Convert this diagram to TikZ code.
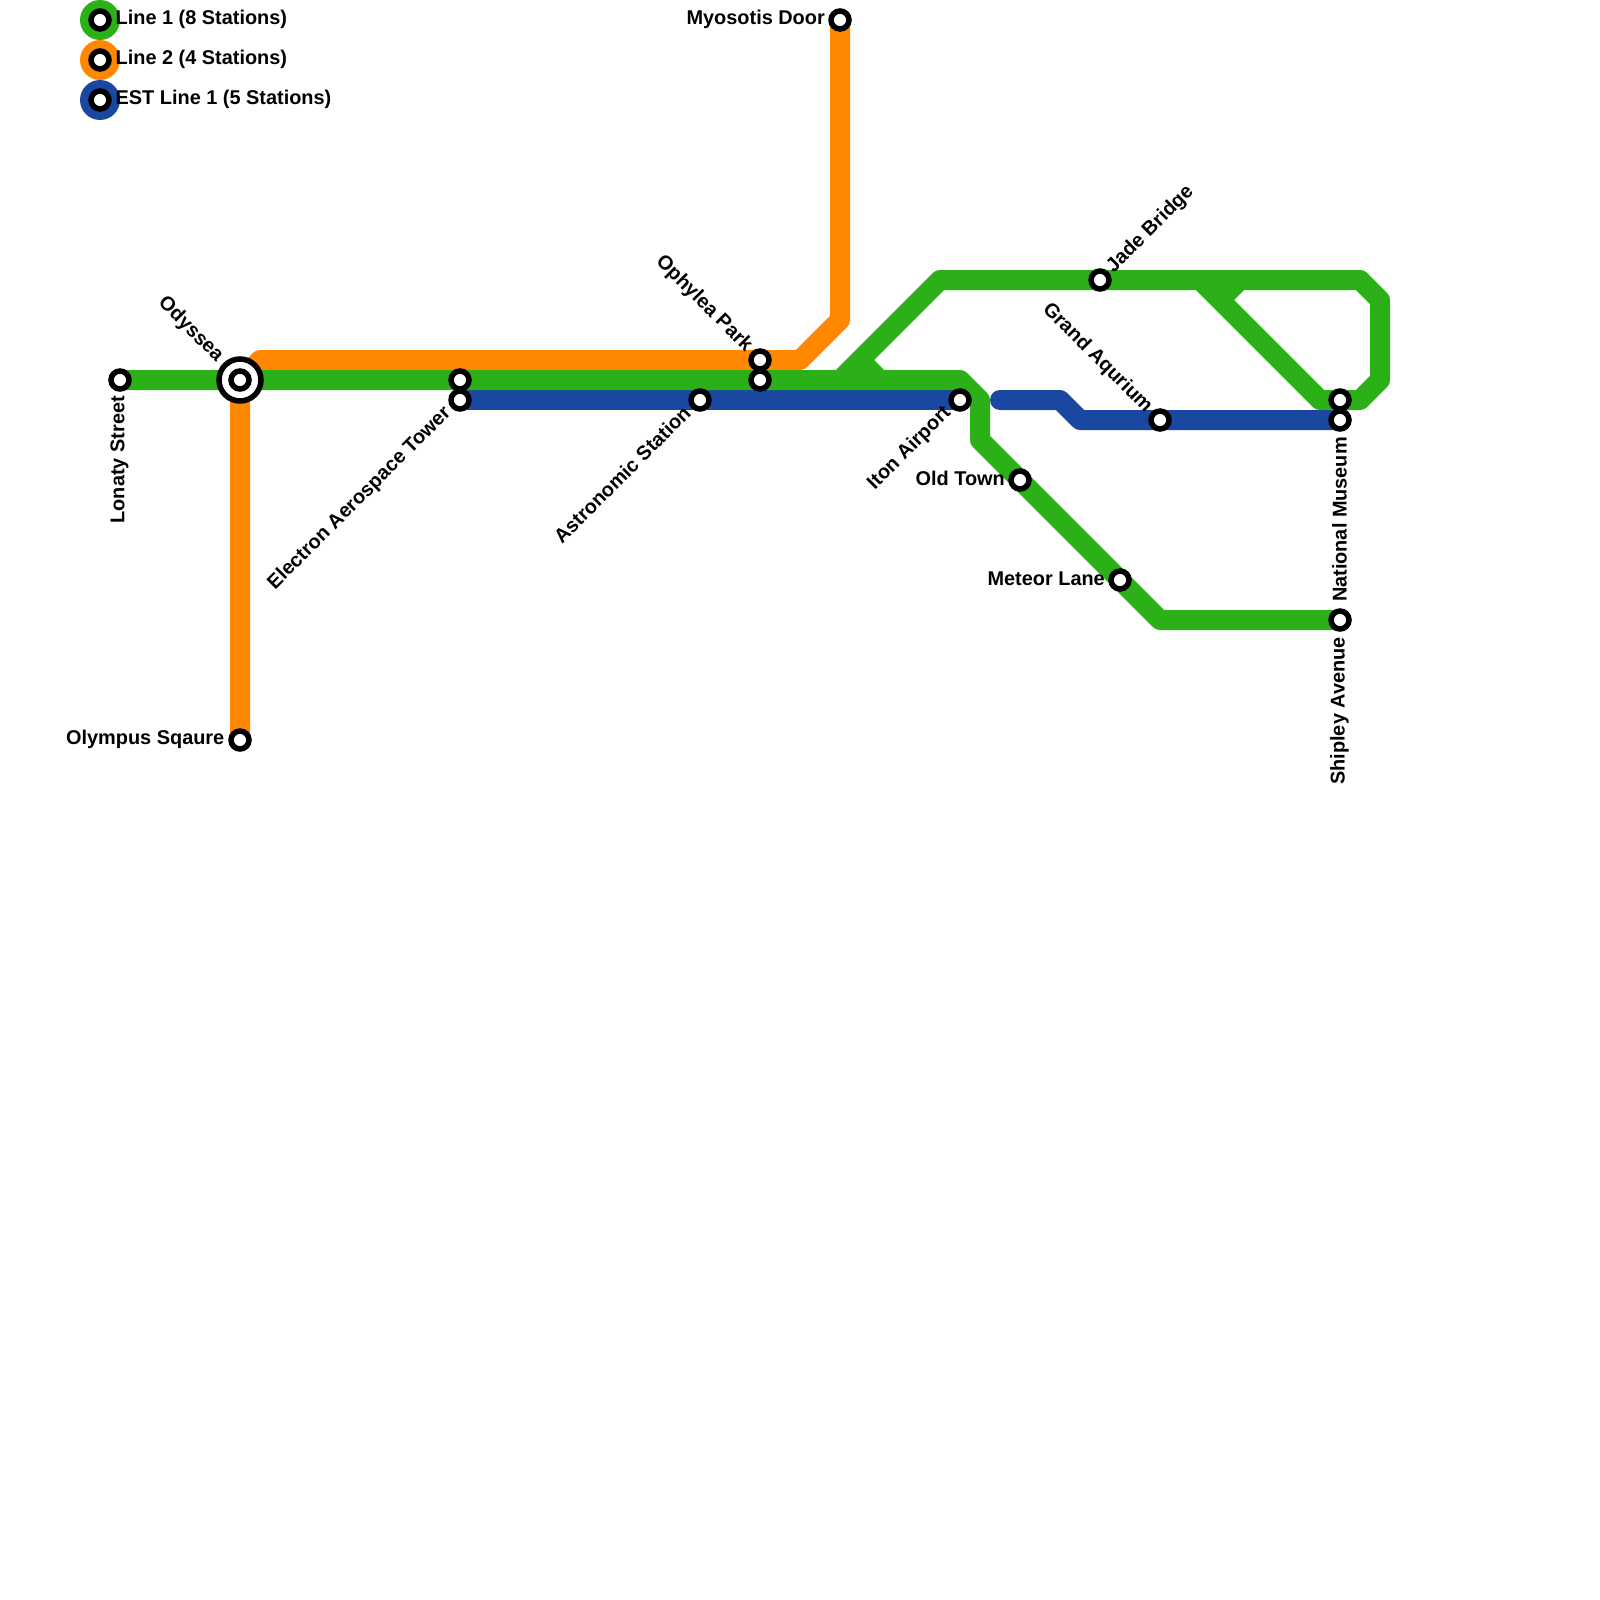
\documentclass[tikz,border=0pt]{standalone}
\usepackage{fontspec}
\setmainfont{Liberation Sans}
\definecolor{lineA}{HTML}{2BB017}
\definecolor{lineB}{HTML}{FF8800}
\definecolor{lineC}{HTML}{1A47A0}
\tikzset{
  x=1pt,y=-1pt,
  metro/.style={line width=20pt,line cap=round,line join=round},
  stn/.style={circle,draw=black,fill=white,line width=5.5pt,minimum size=18pt,inner sep=0pt,outer sep=0pt},
  hub/.style={circle,draw=black,fill=white,line width=5.5pt,minimum size=42pt,inner sep=0pt,outer sep=0pt},
  leg/.style={circle,minimum size=40pt,inner sep=0pt,outer sep=0pt},
  lbl/.style={font=\fontsize{19.9}{20}\selectfont\bfseries,inner sep=0pt,text=black},
}
\begin{document}
\begin{tikzpicture}
\useasboundingbox[fill=white] (0,0) rectangle (1600,1600);
% stations and bends
\coordinate (lonaty) at (120,380);
\coordinate (odyssea) at (240,380);
\coordinate (electronA) at (460,380);
\coordinate (electronB) at (460,400);
\coordinate (astro) at (700,400);
\coordinate (ophyleaA) at (760,360);
\coordinate (ophyleaB) at (760,380);
\coordinate (myosotis) at (840,20);
\coordinate (iton) at (960,400);
\coordinate (oldtown) at (1020,480);
\coordinate (meteor) at (1120,580);
\coordinate (jade) at (1100,280);
\coordinate (grand) at (1160,420);
\coordinate (museumA) at (1340,400);
\coordinate (museumB) at (1340,420);
\coordinate (shipley) at (1340,620);
\coordinate (olympus) at (240,740);
% orange
\draw[metro,lineB] (myosotis) -- (840,320) -- (800,360) -- (ophyleaA) -- (260,360) -- (odyssea) -- (olympus);
% blue
\draw[metro,lineC] (electronB) -- (astro) -- (iton);
\draw[metro,lineC] (1000,400) -- (1060,400) -- (1080,420) -- (grand) -- (museumB);
% green
\draw[metro,lineA] (lonaty) -- (odyssea) -- (electronA) -- (ophyleaB) -- (960,380) -- (980,400) -- (980,440) -- (oldtown) -- (meteor) -- (1160,620) -- (shipley);
\draw[metro,lineA] (880,380) -- (860,360) -- (940,280) -- (jade) -- (1200,280) -- (1320,400) -- (museumA) -- (1360,400) -- (1380,380) -- (1380,300) -- (1360,280) -- (1240,280) -- (1220,300);
\draw[metro,lineA] (840,380) -- (860,360);
\draw[metro,lineA] (1200,280) -- (1240,280);
% legend
\node[leg,fill=lineA] (legA) at (100,20) {};
\node[leg,fill=lineB] (legB) at (100,60) {};
\node[leg,fill=lineC] (legC) at (100,100) {};
\node[stn] (legAs) at (100,20) {};
\node[stn] (legBs) at (100,60) {};
\node[stn] (legCs) at (100,100) {};
\node[lbl,anchor=west] (legAt) at (115.5,19.5) {Line 1 (8 Stations)};
\node[lbl,anchor=west] (legBt) at (115.5,59.5) {Line 2 (4 Stations)};
\node[lbl,anchor=west] (legCt) at (115.5,99.5) {EST Line 1 (5 Stations)};
% station markers
\node[hub] (hubO) at (odyssea) {};
\foreach \s/\n in {lonaty/a,odyssea/b,electronA/c,electronB/d,astro/e,ophyleaA/f,ophyleaB/g,myosotis/h,iton/i,oldtown/j,meteor/k,jade/l,grand/m,museumA/n,museumB/o,shipley/p,olympus/q}
  \node[stn] (st\n) at (\s) {};
% labels
\node[lbl,anchor=east,rotate=90] (tLonaty) at (119.5,396) {Lonaty Street};
\node[lbl,anchor=east,rotate=-45] (tOdyssea) at (220,359) {Odyssea};
\node[lbl,anchor=east,rotate=45] (tElectron) at (448,410) {Electron Aerospace Tower};
\node[lbl,anchor=east,rotate=45] (tAstro) at (687,409.5) {Astronomic Station};
\node[lbl,anchor=east,rotate=-45] (tOphylea) at (749,349) {Ophylea Park};
\node[lbl,anchor=east] (tMyosotis) at (825,19.5) {Myosotis Door};
\node[lbl,anchor=east,rotate=45] (tIton) at (948,410) {Iton Airport};
\node[lbl,anchor=east] (tOld) at (1005,478.5) {Old Town};
\node[lbl,anchor=east] (tMeteor) at (1105,578.5) {Meteor Lane};
\node[lbl,anchor=west,rotate=45] (tJade) at (1110,270) {Jade Bridge};
\node[lbl,anchor=east,rotate=-45] (tGrand) at (1149,410) {Grand Aqurium};
\node[lbl,anchor=east,rotate=90] (tMuseum) at (1339.5,437) {National Museum};
\node[lbl,anchor=east,rotate=90] (tShipley) at (1339.5,637) {Shipley Avenue};
\node[lbl,anchor=east] (tOlympus) at (224.5,739.5) {Olympus Sqaure};
\end{tikzpicture}
\end{document}
